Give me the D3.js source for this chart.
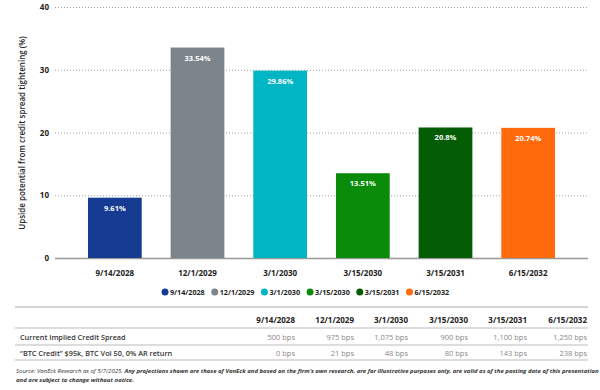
<!DOCTYPE html>
<html><head><meta charset="utf-8">
<script src="https://cdn.jsdelivr.net/npm/d3@7"></script>
<style>body{margin:0;background:#fff;}svg{display:block;font-family:"Open Sans",sans-serif;}</style>
</head><body><svg id="c" width="600" height="390"></svg>
<script>
const categories = ["9/14/2028","12/1/2029","3/1/2030","3/15/2030","3/15/2031","6/15/2032"];
const values = [9.61, 33.54, 29.86, 13.51, 20.8, 20.74];
const valueLabels = ["9.61%","33.54%","29.86%","13.51%","20.8%","20.74%"];
const colors = ["#153b92","#7b858b","#00b5c4","#0a8c0a","#045c04","#ff6a0d"];
const yTicks = [0,10,20,30,40];
const rowLabels = ["Current Implied Credit Spread", "\u201CBTC Credit\u201D $95k, BTC Vol 50, 0% AR return"];
const rowCurrent = ["500 bps","975 bps","1,075 bps","900 bps","1,100 bps","1,250 bps"];
const rowBtc = ["0 bps","21 bps","48 bps","80 bps","143 bps","238 bps"];

const svg = d3.select("#c");
const y = d3.scaleLinear().domain([0,40]).range([258,7]);
const x = d3.scaleBand().domain(categories).range([73.5,569.5]).paddingInner(0.35).paddingOuter(0.175);

// grid
const gy = svg.append("g").attr("transform","translate(55,0)")
  .call(d3.axisLeft(y).tickValues(yTicks).tickSize(-533).tickPadding(6));
gy.select(".domain").remove();
gy.selectAll(".tick line").attr("stroke","#9aa0a4").attr("stroke-dasharray","1,2").attr("stroke-width",1);
gy.selectAll(".tick text").attr("font-size",8).attr("font-weight",700).attr("fill","#222").attr("font-family","Open Sans");

// bars
svg.append("g").selectAll("rect").data(values).join("rect")
  .attr("x",(d,i)=>x(categories[i])).attr("width",x.bandwidth())
  .attr("y",d=>y(d)).attr("height",d=>y(0)-y(d))
  .attr("fill",(d,i)=>colors[i]);
svg.append("g").selectAll("text").data(values).join("text")
  .attr("x",(d,i)=>x(categories[i])+x.bandwidth()/2).attr("y",d=>y(d)+13)
  .attr("text-anchor","middle").attr("font-size",7.5).attr("font-weight",700).attr("fill","#fff")
  .text((d,i)=>valueLabels[i]);

// zero line
gy.selectAll(".tick").filter(d=>d===0).select("line").attr("stroke","#999").attr("stroke-dasharray",null).attr("stroke-width",1.5);

// x axis labels
const gx = svg.append("g").attr("transform","translate(0,258)")
  .call(d3.axisBottom(x).tickSize(0).tickPadding(12));
gx.select(".domain").remove();
gx.selectAll("text").attr("font-size",8).attr("font-weight",700).attr("fill","#222").attr("font-family","Open Sans");

// y title
svg.append("text").attr("transform","translate(25,133) rotate(-90)").attr("text-anchor","middle")
  .attr("font-size",8).attr("font-weight",600).attr("fill","#222").text("Upside potential from credit spread tightening (%)");

// legend
const legend = svg.append("g").attr("transform","translate(165,292)");
let lx = 0;
categories.forEach((c,i)=>{
  const g = legend.append("g").attr("transform",`translate(${lx},0)`);
  g.append("circle").attr("cx",0).attr("cy",0).attr("r",3.5).attr("fill",colors[i]);
  const t = g.append("text").attr("x",5).attr("y",2.6).attr("font-size",7.2).attr("font-weight",700).attr("fill","#222").text(c);
  lx += 5 + t.node().getComputedTextLength() + 10;
});

// table
const colRight = [295,354,408,468,527,587];
const tbl = svg.append("g");
[307,328,345,360].forEach((ly,i)=>{
  tbl.append("line").attr("x1",15).attr("x2",588).attr("y1",ly).attr("y2",ly)
    .attr("stroke",i===0?"#aaa":"#bbb").attr("stroke-width",1);
});
tbl.selectAll(".h").data(categories).join("text").attr("class","h")
  .attr("x",(d,i)=>colRight[i]).attr("y",323).attr("text-anchor","end")
  .attr("font-size",8).attr("font-weight",700).attr("fill","#222").text(d=>d);
[rowCurrent,rowBtc].forEach((row,r)=>{
  const ty = r===0?340:356;
  tbl.append("text").attr("x",20).attr("y",ty).attr("font-size",7.3).attr("font-weight",600).attr("fill","#333").text(rowLabels[r]);
  tbl.selectAll(".r"+r).data(row).join("text").attr("class","r"+r)
    .attr("x",(d,i)=>colRight[i]).attr("y",ty).attr("text-anchor","end")
    .attr("font-size",7.5).attr("fill","#888").text(d=>d);
});

// source
const src = svg.append("text").attr("x",16).attr("y",373).attr("font-size",6).attr("font-style","italic").attr("fill","#333");
src.append("tspan").text("Source: VanEck Research as of 5/7/2025. ");
src.append("tspan").attr("font-weight",700).text("Any projections shown are those of VanEck and based on the firm\u2019s own research, are for illustrative purposes only, are valid as of the posting date of this presentation");
svg.append("text").attr("x",16).attr("y",382).attr("font-size",6).attr("font-style","italic").attr("font-weight",700).attr("fill","#333")
  .text("and are subject to change without notice.");
</script></body></html>
